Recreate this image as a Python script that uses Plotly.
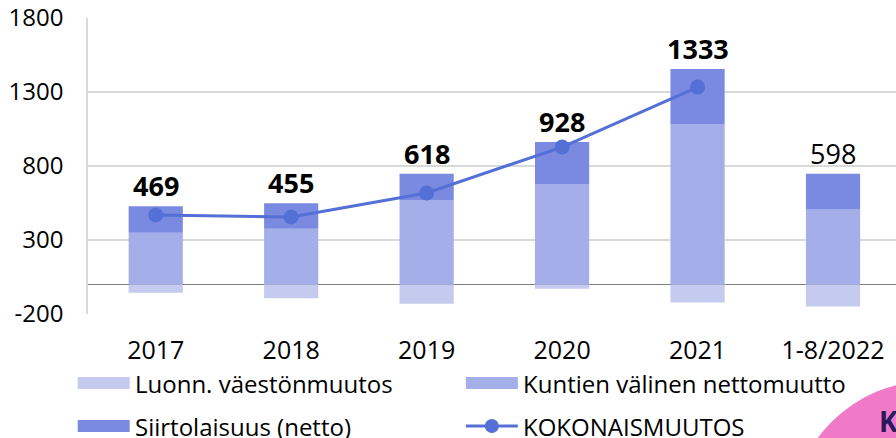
import plotly.graph_objects as go

categories = ["2017", "2018", "2019", "2020", "2021", "1-8/2022"]
luonn = [-56, -94, -130, -29, -122, -150]          # Luonn. väestönmuutos
kuntien = [349, 376, 570, 678, 1080, 510]          # Kuntien välinen nettomuutto
siirto = [179, 172, 178, 284, 375, 238]            # Siirtolaisuus (netto)
kokonais = [469, 455, 618, 928, 1333, None]        # KOKONAISMUUTOS
total_labels = ["469", "455", "618", "928", "1333", "598"]
label_bold = [True, True, True, True, True, False]
y_ticks = [-200, 300, 800, 1300, 1800]
y_ticktext = ["-200", "300", "800", "1300", "1800"]
series_names = ["Luonn. väestönmuutos", "Kuntien välinen nettomuutto",
                "Siirtolaisuus (netto)", "KOKONAISMUUTOS"]

C_LIGHT = "#C5CAEF"
C_MID = "#A4AEE8"
C_DARK = "#7A8AE0"
C_LINE = "#5470D6"
FONT = "Open Sans"
W, H = 896, 438
PX0, PW, PY0, PH = 88.3, 807.7, 314, 296  # plot area (left, width, bottom, height) in px


def px_x(p):
    return (p - PX0) / PW


def px_y(p):
    return (PY0 - p) / PH


fig = go.Figure()
fig.add_trace(go.Bar(x=categories, y=luonn, name=series_names[0],
                     marker=dict(color=C_LIGHT, line=dict(width=0))))
fig.add_trace(go.Bar(x=categories, y=kuntien, name=series_names[1],
                     marker=dict(color=C_MID, line=dict(width=0))))
fig.add_trace(go.Bar(x=categories, y=siirto, name=series_names[2],
                     marker=dict(color=C_DARK, line=dict(width=0))))
fig.add_trace(go.Scatter(x=categories, y=kokonais, name=series_names[3], mode="lines+markers",
                         line=dict(color=C_LINE, width=3), marker=dict(size=15, color=C_LINE)))

for i, (k, s, lab, b) in enumerate(zip(kuntien, siirto, total_labels, label_bold)):
    fig.add_annotation(x=i, y=k + s, text=f"<b>{lab}</b>" if b else lab,
                       showarrow=False, yanchor="bottom", yshift=0,
                       font=dict(family=FONT, size=27, color="#000000"))

# legend drawn below the plot: 2 x 2 grid
legend_cols = [78, 466]   # swatch left edges (px)
legend_rows = [383, 426]  # row centres (px)
swatch_colors = [C_LIGHT, C_MID, C_DARK, None]
for idx, (name, col) in enumerate(zip(series_names, swatch_colors)):
    sx = legend_cols[idx % 2]
    sy = legend_rows[idx // 2]
    if col is not None:
        fig.add_shape(type="rect", xref="paper", yref="paper",
                      x0=px_x(sx), x1=px_x(sx + 52), y0=px_y(sy + 6), y1=px_y(sy - 6),
                      fillcolor=col, line=dict(width=0), layer="above")
    else:
        fig.add_shape(type="line", xref="paper", yref="paper",
                      x0=px_x(sx), x1=px_x(sx + 52), y0=px_y(sy), y1=px_y(sy),
                      line=dict(color=C_LINE, width=3), layer="above")
        fig.add_shape(type="circle", xref="paper", yref="paper",
                      x0=px_x(sx + 19), x1=px_x(sx + 33), y0=px_y(sy + 7), y1=px_y(sy - 7),
                      fillcolor=C_LINE, line=dict(width=0), layer="above")
    fig.add_annotation(xref="paper", yref="paper", x=px_x(sx + 55), y=px_y(sy),
                       text=name, showarrow=False, xanchor="left", yanchor="middle",
                       font=dict(family=FONT, size=24, color="#000000"))

# decorative pink circle from slide
fig.add_shape(type="circle", xref="paper", yref="paper",
              x0=px_x(791), x1=px_x(1069), y0=px_y(659), y1=px_y(381),
              fillcolor="#F07AC8", line=dict(width=0), layer="above")
fig.add_annotation(xref="paper", yref="paper", x=px_x(877), y=px_y(421),
                   text="<b>K</b>", showarrow=False, xanchor="left", yanchor="middle",
                   font=dict(family=FONT, size=28, color="#2B1A5E"))

fig.update_layout(
    width=W, height=H,
    margin=dict(l=88, r=0, t=18, b=124, autoexpand=False),
    paper_bgcolor="white", plot_bgcolor="white",
    barmode="relative", bargap=0.6,
    font=dict(family=FONT, size=20, color="#000000"),
    showlegend=False,
    xaxis=dict(type="category", range=[-0.5, 5.465], showgrid=False, showline=False,
               automargin=False,
               ticks="", ticklabelstandoff=19, tickfont=dict(family=FONT, size=25)),
    yaxis=dict(range=[-200, 1800], tickvals=y_ticks, ticktext=y_ticktext,
               showgrid=True, gridcolor="#D9D9D9", automargin=False,
               gridwidth=1.5, zeroline=True, zerolinecolor="#808080", zerolinewidth=1.2,
               showline=True, linecolor="#D9D9D9", linewidth=1.5, ticks="",
               ticklabelstandoff=18, tickfont=dict(family=FONT, size=24)),
)

fig.write_html("out.html", config={"displayModeBar": False},
               post_script="document.body.style.margin='0';")
